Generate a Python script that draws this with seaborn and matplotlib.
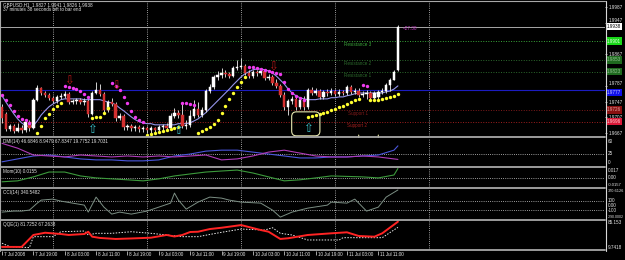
import numpy as np
import pandas as pd
import matplotlib
matplotlib.use("Agg")
import matplotlib.pyplot as plt
import seaborn as sns
from matplotlib.lines import Line2D
from matplotlib.patches import FancyBboxPatch

sns.set_theme(style="dark")
plt.rcParams['font.family'] = ['Liberation Sans', 'DejaVu Sans']
plt.rcParams['axes.unicode_minus'] = False

# ---------------- data ----------------
symbol = "GBPUSD,H1"
timer_text = "37 minutes 38 seconds left to bar end"
countdown = "<27:38"

open_ = [1.9734, 1.9716, 1.9678, 1.9686, 1.9673, 1.9680, 1.9675, 1.9696, 1.9680, 1.9752,
         1.9782, 1.9769, 1.9764, 1.9757, 1.9749, 1.9759, 1.9762, 1.9767, 1.9746, 1.9749,
         1.9752, 1.9746, 1.9749, 1.9716, 1.9769, 1.9777, 1.9767, 1.9726, 1.9746, 1.9741,
         1.9706, 1.9711, 1.9683, 1.9686, 1.9680, 1.9683, 1.9678, 1.9680, 1.9675, 1.9680,
         1.9675, 1.9683, 1.9686, 1.9680, 1.9711, 1.9719, 1.9713, 1.9686, 1.9688, 1.9711,
         1.9729, 1.9713, 1.9726, 1.9774, 1.9785, 1.9810, 1.9815, 1.9820, 1.9818, 1.9812,
         1.9833, 1.9835, 1.9838, 1.9820, 1.9812, 1.9823, 1.9820, 1.9825, 1.9807, 1.9810,
         1.9795, 1.9787, 1.9764, 1.9734, 1.9749, 1.9754, 1.9734, 1.9752, 1.9734, 1.9777,
         1.9769, 1.9774, 1.9759, 1.9772, 1.9769, 1.9774, 1.9767, 1.9772, 1.9769, 1.9785,
         1.9772, 1.9774, 1.9764, 1.9767, 1.9769, 1.9757, 1.9759, 1.9772, 1.9774, 1.9790,
         1.9802, 1.9827]
high = [1.9741, 1.9721, 1.9691, 1.9691, 1.9693, 1.9688, 1.9698, 1.9701, 1.9757, 1.9790,
        1.9785, 1.9774, 1.9769, 1.9762, 1.9764, 1.9769, 1.9774, 1.9772, 1.9754, 1.9757,
        1.9757, 1.9757, 1.9754, 1.9774, 1.9797, 1.9792, 1.9772, 1.9752, 1.9757, 1.9746,
        1.9719, 1.9716, 1.9691, 1.9691, 1.9688, 1.9688, 1.9686, 1.9686, 1.9686, 1.9683,
        1.9688, 1.9691, 1.9693, 1.9719, 1.9731, 1.9726, 1.9741, 1.9701, 1.9726, 1.9752,
        1.9746, 1.9734, 1.9779, 1.9792, 1.9815, 1.9825, 1.9833, 1.9828, 1.9823, 1.9838,
        1.9853, 1.9858, 1.9843, 1.9828, 1.9828, 1.9828, 1.9833, 1.9830, 1.9818, 1.9815,
        1.9805, 1.9792, 1.9772, 1.9754, 1.9762, 1.9759, 1.9757, 1.9762, 1.9782, 1.9785,
        1.9782, 1.9779, 1.9777, 1.9779, 1.9782, 1.9779, 1.9779, 1.9777, 1.9790, 1.9790,
        1.9782, 1.9782, 1.9774, 1.9777, 1.9774, 1.9774, 1.9777, 1.9782, 1.9795, 1.9807,
        1.9828, 1.9941]
low = [1.9693, 1.9673, 1.9673, 1.9668, 1.9670, 1.9668, 1.9670, 1.9673, 1.9678, 1.9749,
       1.9764, 1.9759, 1.9752, 1.9744, 1.9744, 1.9754, 1.9757, 1.9741, 1.9741, 1.9741,
       1.9741, 1.9739, 1.9708, 1.9713, 1.9767, 1.9762, 1.9719, 1.9721, 1.9736, 1.9698,
       1.9701, 1.9675, 1.9675, 1.9673, 1.9673, 1.9670, 1.9670, 1.9668, 1.9668, 1.9665,
       1.9670, 1.9673, 1.9675, 1.9675, 1.9706, 1.9706, 1.9680, 1.9678, 1.9683, 1.9706,
       1.9708, 1.9708, 1.9721, 1.9769, 1.9779, 1.9802, 1.9807, 1.9810, 1.9807, 1.9810,
       1.9828, 1.9830, 1.9815, 1.9807, 1.9807, 1.9812, 1.9815, 1.9802, 1.9802, 1.9790,
       1.9782, 1.9759, 1.9726, 1.9713, 1.9741, 1.9726, 1.9729, 1.9726, 1.9729, 1.9764,
       1.9764, 1.9754, 1.9754, 1.9762, 1.9764, 1.9762, 1.9762, 1.9764, 1.9764, 1.9767,
       1.9767, 1.9759, 1.9759, 1.9754, 1.9752, 1.9752, 1.9754, 1.9767, 1.9769, 1.9774,
       1.9802, 1.9826]
close = [1.9706, 1.9678, 1.9686, 1.9673, 1.9680, 1.9675, 1.9696, 1.9680, 1.9752, 1.9782,
         1.9769, 1.9764, 1.9757, 1.9749, 1.9759, 1.9762, 1.9767, 1.9746, 1.9749, 1.9752,
         1.9746, 1.9749, 1.9716, 1.9769, 1.9777, 1.9767, 1.9726, 1.9746, 1.9741, 1.9706,
         1.9711, 1.9683, 1.9686, 1.9680, 1.9683, 1.9678, 1.9680, 1.9675, 1.9680, 1.9675,
         1.9683, 1.9686, 1.9680, 1.9711, 1.9719, 1.9713, 1.9686, 1.9688, 1.9711, 1.9729,
         1.9713, 1.9726, 1.9774, 1.9785, 1.9810, 1.9815, 1.9820, 1.9818, 1.9812, 1.9833,
         1.9835, 1.9838, 1.9820, 1.9812, 1.9823, 1.9820, 1.9825, 1.9807, 1.9810, 1.9795,
         1.9787, 1.9764, 1.9734, 1.9749, 1.9754, 1.9734, 1.9752, 1.9734, 1.9777, 1.9769,
         1.9774, 1.9759, 1.9772, 1.9769, 1.9774, 1.9767, 1.9772, 1.9769, 1.9785, 1.9772,
         1.9774, 1.9764, 1.9767, 1.9769, 1.9757, 1.9769, 1.9772, 1.9774, 1.9790, 1.9802,
         1.9823, 1.9938]
sar = [1.9764, 1.9752, 1.9739, 1.9724, 1.9711, 1.9703, 1.9701, 1.9693, np.nan, 1.9668,
       1.9686, 1.9706, 1.9716, 1.9729, 1.9736, 1.9744, 1.9787, 1.9785, 1.9782, 1.9779,
       1.9774, 1.9767, 1.9759, 1.9706, 1.9708, 1.9708, 1.9719, 1.9731, 1.9795, 1.9787,
       1.9777, 1.9759, 1.9744, 1.9724, 1.9708, 1.9701, 1.9696, 1.9663, 1.9665, 1.9668,
       1.9670, 1.9673, 1.9675, 1.9678, 1.9680, 1.9683, 1.9744, 1.9744, 1.9741, 1.9739,
       1.9668, 1.9673, 1.9678, 1.9683, 1.9691, 1.9701, 1.9719, 1.9736, 1.9754, 1.9769,
       1.9785, 1.9797, 1.9810, 1.9835, 1.9835, 1.9833, 1.9830, 1.9828, 1.9825, 1.9823,
       1.9820, 1.9818, 1.9797, 1.9779, 1.9769, 1.9762, 1.9757, 1.9752, 1.9708, 1.9711,
       1.9713, 1.9716, 1.9719, 1.9721, 1.9726, 1.9729, 1.9734, 1.9736, 1.9741, 1.9746,
       1.9752, 1.9754, 1.9790, 1.9787, 1.9752, 1.9752, 1.9752, 1.9754, 1.9757, 1.9759,
       1.9762, 1.9767]
ma = [1.9762, 1.9746, 1.9731, 1.9716, 1.9703, 1.9693, 1.9686, 1.9683, 1.9686, 1.9698,
      1.9713, 1.9724, 1.9734, 1.9741, 1.9746, 1.9752, 1.9754, 1.9754, 1.9754, 1.9754,
      1.9754, 1.9752, 1.9752, 1.9752, 1.9752, 1.9752, 1.9749, 1.9746, 1.9744, 1.9739,
      1.9731, 1.9724, 1.9716, 1.9708, 1.9701, 1.9696, 1.9693, 1.9691, 1.9691, 1.9688,
      1.9688, 1.9688, 1.9688, 1.9688, 1.9688, 1.9691, 1.9691, 1.9691, 1.9693, 1.9698,
      1.9703, 1.9711, 1.9719, 1.9729, 1.9739, 1.9749, 1.9759, 1.9769, 1.9779, 1.9790,
      1.9800, 1.9810, 1.9818, 1.9823, 1.9828, 1.9830, 1.9830, 1.9828, 1.9825, 1.9820,
      1.9812, 1.9802, 1.9792, 1.9779, 1.9769, 1.9762, 1.9757, 1.9754, 1.9752, 1.9752,
      1.9752, 1.9754, 1.9754, 1.9754, 1.9757, 1.9757, 1.9759, 1.9759, 1.9762, 1.9764,
      1.9767, 1.9769, 1.9769, 1.9769, 1.9769, 1.9769, 1.9769, 1.9769, 1.9772, 1.9774,
      1.9779, 1.9787]

level_names = ["Resistance 3", "Resistance 2", "Resistance 1", "Support 1", "Support 2"]
level_prices = [1.9901, 1.9853, 1.9823, 1.9726, 1.9696]
pivot_price = 1.9777
price_ticks = [1.9987, 1.9947, 1.9867, 1.9787, 1.9747, 1.9707, 1.9667]

sell_bars = [17, 29, 69]
sell_prices = [1.9799, 1.9787, 1.9835]
buy_bars = [23, 45, 78]
buy_prices = [1.9677, 1.9674, 1.9679]
alert_bars = [91, 96]
alert_from = [1.9669, 1.9669]
alert_to = [1.9627, 1.9627]
box_bars = [73.9, 81.1]
box_prices = [1.9660, 1.9721]

day_bars = [13, 37, 61, 85, 109]
time_bars = [0, 8, 16, 24, 32, 40, 48, 56, 64, 72, 80, 88, 96]
time_labels = ["7 Jul 2008", "7 Jul 19:00", "8 Jul 03:00", "8 Jul 11:00", "8 Jul 19:00",
               "9 Jul 03:00", "9 Jul 11:00", "9 Jul 19:00", "10 Jul 03:00", "10 Jul 11:00",
               "10 Jul 19:00", "11 Jul 03:00", "11 Jul 11:00"]

ind_bars = [0, 4, 8, 12, 16, 20, 24, 28, 32, 36, 40, 44, 48, 52, 56, 60, 64, 68, 72, 76,
            80, 84, 88, 92, 96, 100, 101]
dmi_plus = [2.2, 10.3, 18.5, 21.2, 15.8, 10.3, 7.6, 7.6, 4.9, 4.9, 7.6, 18.5, 23.9, 32.0,
            34.7, 34.7, 29.3, 23.9, 18.5, 13.0, 13.0, 15.8, 15.8, 18.5, 21.2, 34.7, 46.6846]
dmi_minus = [53.7, 40.2, 21.2, 18.5, 15.8, 21.2, 18.5, 15.8, 18.5, 15.8, 18.5, 15.8, 18.5,
             21.2, 7.6, 10.3, 18.5, 29.3, 34.7, 26.6, 18.5, 15.8, 15.8, 18.5, 15.8, 10.3, 8.9479]
dmi_title = "DMI(14) 46.6846 8.9479 67.8347 19.7752 19.7031"
mom = [-0.0067, -0.0051, 0.0015, 0.0096, 0.0096, 0.0031, -0.0002, -0.0018, -0.0034,
       -0.0051, -0.0018, 0.0031, 0.0064, 0.0096, 0.0113, 0.0129, 0.0080, 0.0015, -0.0051,
       -0.0034, -0.0002, 0.0031, 0.0023, 0.0015, -0.0002, 0.0047, 0.0155]
cci_bars = [0, 3, 5, 7, 9, 10, 13, 15, 18, 21, 22, 24, 26, 28, 30, 33, 37, 40, 43, 44, 45,
            47, 50, 53, 56, 58, 61, 66, 69, 71, 74, 78, 83, 84, 88, 90, 93, 96, 98, 101]
cci = [-145, -123, -123, -101, 52, 118, 140, 96, 52, 8, -145, 184, -36, -189, -145, -189,
       -123, -36, 52, 272, 118, -80, 74, 184, 162, 118, 74, 52, -101, -255, -145, -58, 8,
       74, 52, 140, -123, -36, 184, 340.5482]
qqe_fast_bars = [0, 5, 6, 8, 11, 15, 17, 21, 22, 23, 25, 29, 33, 38, 42, 44, 46, 48, 50,
                 53, 56, 61, 66, 68, 71, 73, 78, 84, 88, 91, 95, 97, 101]
qqe_fast = [16.7, 16.7, 26.9, 47.5, 53.3, 50.0, 47.5, 50.0, 55.9, 43.1, 39.8, 37.2, 38.5,
            40.5, 47.5, 43.6, 47.5, 55.2, 55.9, 62.8, 66.2, 73.1, 60.3, 55.9, 37.2, 39.0,
            47.5, 51.8, 54.4, 44.9, 43.1, 51.8, 81.7252]
qqe_slow_bars = [0, 2, 7, 8, 13, 15, 21, 22, 24, 28, 33, 38, 42, 46, 50, 56, 61, 67, 69,
                 71, 74, 78, 86, 87, 97, 101]
qqe_slow = [26.2, 17.4, 14.9, 43.1, 43.1, 55.9, 57.7, 47.5, 51.8, 51.8, 55.9, 51.8, 47.5,
            43.1, 43.1, 54.4, 62.8, 60.3, 66.2, 51.8, 47.5, 34.6, 34.6, 40.5, 40.5, 67.2638]

# ---------------- figure ----------------
W, H = 625, 260
fig = plt.figure(figsize=(6.25, 2.6), dpi=100, facecolor="black")
XL = (-0.51, 153.83)
FS = 3.3
TXT = "#e6e6e6"


def pax(y0, y1, ylim):
    ax = fig.add_axes([0, 1 - y1 / H, 605 / W, (y1 - y0) / H])
    ax.set_facecolor("black")
    for s in ax.spines.values():
        s.set_visible(False)
    ax.set_xlim(XL)
    ax.set_ylim(ylim)
    ax.grid(False)
    for b in day_bars:
        ax.axvline(b, color="#cfcfcf", lw=0.6, ls=(0, (1, 1.6)), zorder=1)
    return ax


def clean(ax):
    ax.set_xlabel("")
    ax.set_ylabel("")
    ax.set_xticks([])
    ax.set_yticks([])


def rlabel(ax, val, txt, va="center", fs=FS):
    ax.text(1.004, val, txt, transform=ax.get_yaxis_transform(), color=TXT,
            fontsize=fs, va=va, ha="left", clip_on=False)


df = pd.DataFrame(dict(bar=np.arange(len(close)), open=open_, high=high, low=low,
                       close=close, sar=sar, ma=ma))
df["bull"] = df["close"] >= df["open"]

# ---- main chart ----
ax = pax(0, 136.3, (1.96588, 2.00055))
for name, p in zip(level_names, level_prices):
    col = "#3aa63a" if name.endswith("3") else ("#2c6a2c" if name.startswith("R") else
                                                ("#7e1a1a" if name.endswith("1") else "#a01e1e"))
    ax.axhline(p, color=col, lw=0.7, ls=(0, (1, 1.6)), zorder=1)
    ax.annotate(name, xy=(90.7, p), xytext=(0, -0.8), textcoords="offset points",
                color=col, fontsize=FS, ha="center", va="top", zorder=2)
ax.axhline(pivot_price, color="#1c1cc0", lw=0.8, zorder=1)
ax.axhline(df["close"].iloc[-1], color="#a8a8a8", lw=0.7, zorder=1)

sns.lineplot(data=df, x="bar", y="ma", color="#9494ea", lw=0.8, ax=ax, zorder=3, legend=False)
ax.vlines(df["bar"], df["low"], df["high"], color="#d0d0d0", lw=0.7, zorder=4)
ax.bar(df["bar"], df["close"] - df["open"], bottom=df["open"], width=0.62,
       color=np.where(df["bull"], "white", "#d43030"),
       edgecolor=np.where(df["bull"], "white", "#d43030"), linewidth=0.35, zorder=5)
sd = df.dropna(subset=["sar"])
below = sd["sar"] < sd["close"]
sns.scatterplot(data=sd[below], x="bar", y="sar", color="#ffff30", s=6, linewidth=0,
                ax=ax, zorder=6, legend=False)
sns.scatterplot(data=sd[~below], x="bar", y="sar", color="#f03cf0", s=6, linewidth=0,
                ax=ax, zorder=6, legend=False)
for b, p in zip(sell_bars, sell_prices):
    ax.text(b, p, "\u21e9", color="#b01818", fontsize=8.5, ha="center", va="center",
            family="DejaVu Sans", zorder=7)
for b, p in zip(buy_bars, buy_prices):
    ax.text(b, p, "\u21e7", color="#3cc0c8", fontsize=8.5, ha="center", va="center",
            family="DejaVu Sans", zorder=7)
for b, p0, p1 in zip(alert_bars, alert_from, alert_to):
    ax.annotate("", xy=(b, p1), xytext=(b, p0), annotation_clip=False,
                arrowprops=dict(arrowstyle="->,head_length=0.35,head_width=0.18",
                                color="#e8e8a8", lw=0.8), zorder=9)
box = FancyBboxPatch((box_bars[0], box_prices[0]), box_bars[1] - box_bars[0],
                     box_prices[1] - box_prices[0],
                     boxstyle="round,pad=0,rounding_size=1.2", mutation_aspect=0.001,
                     fc="none", ec="#e8e8b0", lw=0.8, zorder=8, clip_on=False)
ax.add_patch(box)
ax.annotate(countdown, xy=(df["bar"].iloc[-1], df["close"].iloc[-1]), xytext=(3.5, -1.2),
            textcoords="offset points", color="#c03cc0", fontsize=FS, va="center", ha="left")
clean(ax)
ax.yaxis.tick_right()
ax.set_yticks(price_ticks)
ax.set_yticklabels([f"{t:.4f}" for t in price_ticks])
ax.tick_params(axis="y", colors=TXT, labelsize=FS, length=1.5, width=0.5, pad=1.0)
for lab in ax.get_yticklabels():
    if lab.get_text() in ("1.9947", "1.9787"):
        lab.set_va("bottom")
# price boxes on the scale
box_cols = ["#18d818", "#1e6a1e", "#1e6a1e", "#8a1010", "#d81838"]
box_txt = ["#e8ffe8", "#90c090", "#90c090", "#e0a0a0", "#ffd0d0"]
for p, fc, tc in zip(level_prices, box_cols, box_txt):
    ax.text(1.003, p, f"{p:.4f}", transform=ax.get_yaxis_transform(), color=tc, fontsize=FS,
            va="center", ha="left", clip_on=False, zorder=10,
            bbox=dict(boxstyle="square,pad=0.25", fc=fc, ec="none"))
ax.text(1.003, pivot_price, f"{pivot_price:.4f}", transform=ax.get_yaxis_transform(),
        color="#c8c8ff", fontsize=FS, va="top", ha="left", clip_on=False, zorder=10,
        bbox=dict(boxstyle="square,pad=0.22", fc="#1010e8", ec="none"))
ax.text(1.003, df["close"].iloc[-1], f"{df['close'].iloc[-1]:.4f}",
        transform=ax.get_yaxis_transform(), color="black", fontsize=FS, va="center",
        ha="left", clip_on=False, zorder=10,
        bbox=dict(boxstyle="square,pad=0.2", fc="white", ec="none"))

fig.text(3 / W, 1 - 4.3 / H,
         f"{symbol}  {open_[-1]:.4f} {high[-1]:.4f} {low[-1]:.4f} {close[-1]:.4f}",
         color=TXT, fontsize=FS, va="center", ha="left")
fig.text(3 / W, 1 - 9.8 / H, timer_text, color=TXT, fontsize=FS, va="center", ha="left")

# ---- DMI ----
a1 = pax(137.5, 166.2, (-10, 70))
a1.axhline(25, color="#d0d0d0", lw=0.6, ls=(0, (1, 1.6)))
sns.lineplot(x=ind_bars, y=dmi_plus, color="#4a56dc", lw=0.8, ax=a1)
sns.lineplot(x=ind_bars, y=dmi_minus, color="#b03cb8", lw=0.8, ax=a1)
clean(a1)
a1.text(0.005, 0.86, dmi_title, transform=a1.transAxes, color=TXT, fontsize=FS, va="center")
rlabel(a1, 60, "60")
rlabel(a1, 25, "25")
rlabel(a1, 0, "0")

# ---- Momentum ----
a2 = pax(167.6, 187.2, (-0.0157, 0.017))
a2.axhline(0, color="#d0d0d0", lw=0.6, ls=(0, (1, 1.6)))
sns.lineplot(x=ind_bars, y=mom, color="#3c9a3c", lw=0.8, ax=a2)
clean(a2)
a2.text(0.005, 0.82, f"Mom(10) {mom[-1]:.4f}", transform=a2.transAxes, color=TXT,
        fontsize=FS, va="center")
rlabel(a2, 0.017, "0.017", va="top")
rlabel(a2, 0.0, "0.00")
rlabel(a2, -0.0157, "-0.0157", va="bottom", fs=3.0)

# ---- CCI ----
a3 = pax(188.6, 218.7, (-290.0002, 370.6126))
a3.axhline(100, color="#d0d0d0", lw=0.6, ls=(0, (1, 1.6)))
a3.axhline(-100, color="#d0d0d0", lw=0.6, ls=(0, (1, 1.6)))
sns.lineplot(x=cci_bars, y=cci, color="#7c8f84", lw=0.7, ax=a3)
clean(a3)
a3.text(0.005, 0.86, f"CCI(14) {cci[-1]:.4f}", transform=a3.transAxes, color=TXT,
        fontsize=FS, va="center")
rlabel(a3, 370.6126, "370.6126", va="top", fs=2.8)
rlabel(a3, 100, "100")
rlabel(a3, 0, "0.00")
rlabel(a3, -100, "-100")
rlabel(a3, -290.0002, "-290.0002", va="bottom", fs=2.5)

# ---- QQE ----
a4 = pax(220.4, 249.6, (9.7418, 85.153))
sns.lineplot(x=qqe_slow_bars, y=qqe_slow, color="#e8e8e8", lw=0.7, ax=a4)
a4.lines[-1].set_linestyle((0, (1.5, 1.5)))
sns.lineplot(x=qqe_fast_bars, y=qqe_fast, color="#ff2424", lw=1.4, ax=a4)
clean(a4)
a4.text(0.005, 0.86, f"QQE(1) {qqe_fast[-1]:.4f} {qqe_slow[-1]:.4f}", transform=a4.transAxes,
        color=TXT, fontsize=FS, va="center")
rlabel(a4, 85.153, "85.153", va="top")
rlabel(a4, 9.7418, "9.7418", va="bottom")

# ---- time axis ----
at = fig.add_axes([0, 0, 605 / W, 9 / H])
at.set_facecolor("black")
for s in at.spines.values():
    s.set_visible(False)
at.set_xlim(XL)
at.set_ylim(9, 0)
at.vlines(time_bars, 0, 3.5, color=TXT, lw=0.5)
for b, t in zip(time_bars, time_labels):
    at.text(b + 0.5, 3.6, t, color=TXT, fontsize=FS, va="center", ha="left")
clean(at)

# ---- frame lines ----
for y in [136.9, 167.0, 188.0, 219.6, 250.4]:
    fig.add_artist(Line2D([0, 605 / W], [1 - y / H, 1 - y / H], color="#a8a8a8", lw=1.3))
fig.add_artist(Line2D([605.5 / W, 605.5 / W], [1 - 1 / H, 1 - 251 / H], color="#d8d8d8", lw=0.8))
fig.add_artist(Line2D([0, 605 / W], [1 - 0.5 / H, 1 - 0.5 / H], color="#a8a8a8", lw=0.8))
fig.add_artist(Line2D([0.4 / W, 0.4 / W], [1 - 0.5 / H, 1 - 251 / H], color="#a8a8a8", lw=0.8))

fig.savefig("out.png", dpi=100, facecolor="black")
